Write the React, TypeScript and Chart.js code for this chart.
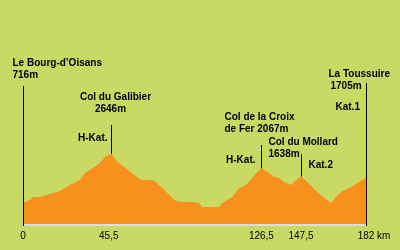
import React, { useEffect, useRef } from "react";
import { Chart, registerables } from "chart.js";

Chart.register(...registerables);

const distanceKm = [0, 3.7, 5.3, 9.0, 14.3, 19.6, 24.9, 30.2, 32.9, 37.1, 40.8, 43.5, 46.9, 50.1, 53.8, 59.1, 62.8, 67.0, 69.7, 73.4, 76.6, 80.3, 84.0, 90.9, 93.5, 95.1, 104.1, 105.7, 111.0, 114.7, 118.4, 121.6, 124.3, 126.5, 130.6, 133.3, 135.9, 138.6, 142.3, 144.9, 147.6, 150.8, 156.1, 159.8, 163.5, 166.1, 168.8, 174.1, 178.3, 182];
const elevationM = [716, 835, 953, 953, 1071, 1189, 1426, 1623, 1898, 2095, 2292, 2529, 2660, 2332, 2135, 1820, 1623, 1623, 1583, 1347, 1111, 835, 756, 756, 717, 559, 559, 717, 953, 1308, 1426, 1701, 1938, 2080, 1898, 1741, 1701, 1544, 1426, 1623, 1760, 1544, 1150, 914, 717, 953, 1150, 1347, 1544, 1705];

const tickKm = [0, 45.5, 126.5, 147.5, 182];
const tickLabels = ["0", "45,5", "126,5", "147,5", "182 km"];

// marker lines: km position, top of line (elevation units), whether it reaches the axis
const markerKm = [0, 46.9, 126.5, 147.6, 182];
const markerTopM = [5325, 3789, 3001, 2647, 5443];
const markerToBase = [true, false, false, false, true];

// label texts per marker
const markerTexts: string[][] = [
  ["Le Bourg-d\u2019Oisans", "716m"],
  ["Col du Galibier", "2646m", "H-Kat."],
  ["Col de la Croix", "de Fer 2067m", "H-Kat."],
  ["Col du Mollard", "1638m", "Kat.2"],
  ["La Toussuire", "1705m", "Kat.1"],
];
// layout of each text: [dx from line, dy from line top, align]
const markerTextLayout: [number, number, CanvasTextAlign][][] = [
  [[-11, -23, "left"], [-11, -11, "left"]],
  [[4, -28, "center"], [-1, -16, "center"], [-4, 13, "right"]],
  [[-37, -28, "left"], [-37, -16, "left"], [-6, 15, "right"]],
  [[-33, -12, "left"], [-33, 0, "left"], [7, 11, "left"]],
  [[-38, -9, "left"], [-36, 3, "left"], [-31, 24, "left"]],
];

const BG = "#c8d964";
const ORANGE = "#f7901c";

function interp(km: number) {
  for (let i = 1; i < distanceKm.length; i++) {
    if (km <= distanceKm[i]) {
      const t = (km - distanceKm[i - 1]) / (distanceKm[i] - distanceKm[i - 1]);
      return elevationM[i - 1] + t * (elevationM[i] - elevationM[i - 1]);
    }
  }
  return elevationM[elevationM.length - 1];
}

const decorPlugin = {
  id: "decor",
  beforeDraw(chart: any) {
    const { ctx, width, height } = chart;
    ctx.save();
    ctx.fillStyle = BG;
    ctx.fillRect(0, 0, width, height);
    ctx.restore();
  },
  afterDatasetsDraw(chart: any) {
    const { ctx, chartArea } = chart;
    const xs = chart.scales.x;
    const ys = chart.scales.y;
    ctx.save();
    // baseline
    ctx.fillStyle = "#dcdcdc";
    ctx.fillRect(chartArea.left, chartArea.bottom, chartArea.right - chartArea.left, 2);
    // marker lines
    ctx.strokeStyle = "#000";
    ctx.lineWidth = 1;
    markerKm.forEach((km, i) => {
      const x = Math.round(xs.getPixelForValue(km)) + 0.5;
      const yTop = ys.getPixelForValue(markerTopM[i]);
      const yBot = markerToBase[i] ? chartArea.bottom + 2 : ys.getPixelForValue(interp(km));
      ctx.beginPath();
      ctx.moveTo(x, yTop);
      ctx.lineTo(x, yBot);
      ctx.stroke();
      ctx.fillStyle = "#000";
      ctx.font = "bold 10px 'Liberation Sans', Arial, sans-serif";
      ctx.textBaseline = "middle";
      markerTexts[i].forEach((t, j) => {
        const [dx, dy, al] = markerTextLayout[i][j];
        ctx.textAlign = al;
        ctx.fillText(t, x + dx, yTop + dy);
      });
    });
    // tick labels
    ctx.font = "10px 'Liberation Sans', Arial, sans-serif";
    ctx.textBaseline = "middle";
    ctx.fillStyle = "#000";
    tickKm.forEach((km, i) => {
      const x = xs.getPixelForValue(km);
      const label = tickLabels[i];
      const sp = label.indexOf(" ");
      if (sp > 0) {
        const num = label.slice(0, sp);
        ctx.textAlign = "left";
        ctx.fillText(label, x - ctx.measureText(num).width / 2, chartArea.bottom + 12);
      } else {
        ctx.textAlign = "center";
        ctx.fillText(label, x, chartArea.bottom + 12);
      }
    });
    ctx.restore();
  },
};

export default function App() {
  const ref = useRef<HTMLCanvasElement>(null);
  useEffect(() => {
    if (!ref.current) return;
    const chart = new Chart(ref.current, {
      type: "line",
      data: {
        datasets: [
          {
            data: distanceKm.map((d, i) => ({ x: d, y: elevationM[i] })),
            fill: "start",
            backgroundColor: ORANGE,
            borderColor: ORANGE,
            borderWidth: 0,
            pointRadius: 0,
            tension: 0,
          },
        ],
      },
      options: {
        responsive: false,
        animation: false,
        layout: { padding: { left: 23, right: 34, top: 40, bottom: 26 } },
        plugins: { legend: { display: false }, tooltip: { enabled: false } },
        scales: {
          x: { type: "linear", min: 0, max: 182, display: false },
          y: { min: -110, max: 7137, display: false },
        },
      },
      plugins: [decorPlugin],
    });
    return () => chart.destroy();
  }, []);
  return (
    <div style={{ position: "absolute", left: 0, top: 0, width: 400, height: 250 }}>
      <canvas ref={ref} width={400} height={250} style={{ display: "block" }} />
    </div>
  );
}
